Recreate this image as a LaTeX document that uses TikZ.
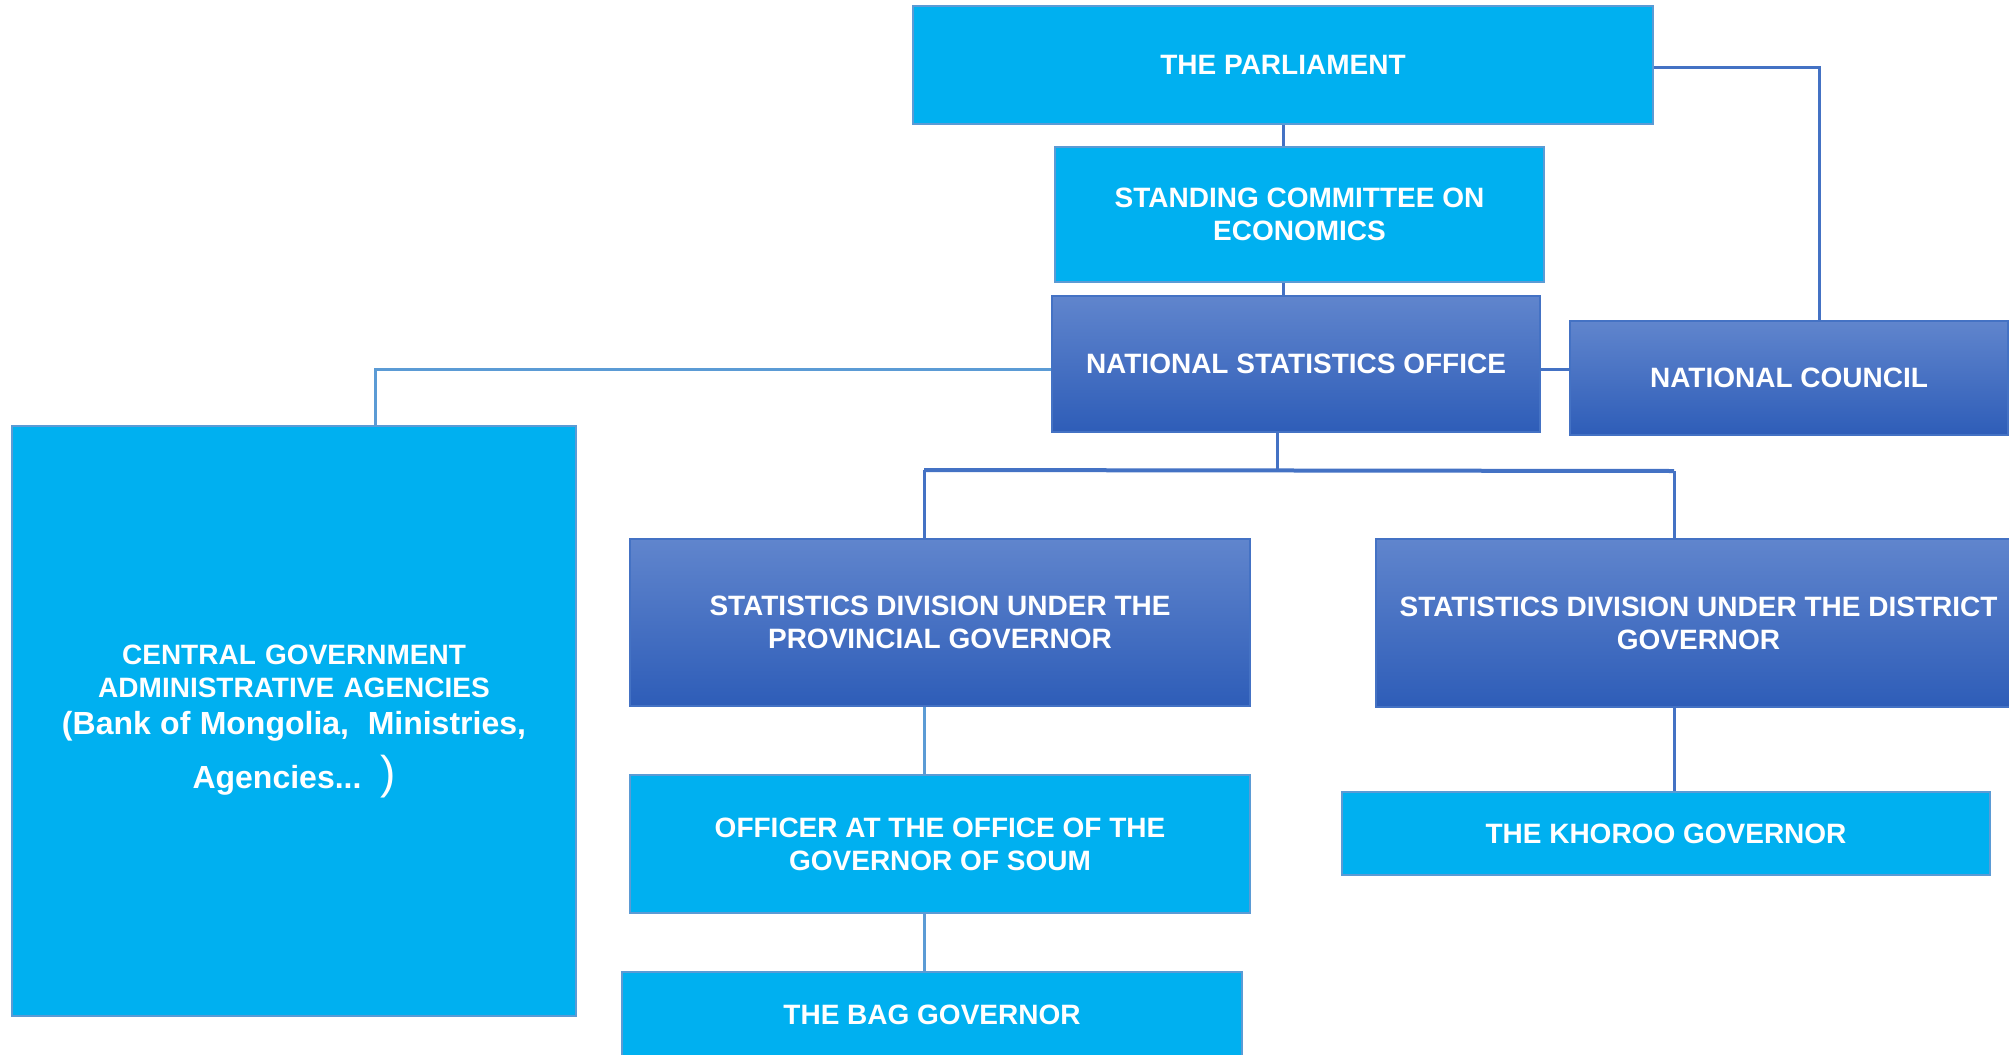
\documentclass[tikz,border=0pt]{standalone}
\usepackage{fontspec}
\setmainfont{Liberation Sans}
\definecolor{lightbox}{HTML}{00B0F0}
\definecolor{lightedge}{HTML}{5B9BD5}
\definecolor{darkedge}{HTML}{4472C4}
\definecolor{gradtop}{HTML}{6085CD}
\definecolor{gradbot}{HTML}{2E5DB8}
\definecolor{linkdark}{HTML}{4472C4}
\definecolor{linklight}{HTML}{5B9BD5}
\begin{document}
\begin{tikzpicture}[x=0.5pt,y=-0.5pt,
  lbox/.style={rectangle, fill=lightbox, draw=lightedge, line width=1pt, inner sep=0pt, text=white, align=center,
    font=\bfseries\fontsize{14}{16.5}\selectfont},
  dbox/.style={rectangle, top color=gradtop, bottom color=gradbot, draw=darkedge, line width=1pt, inner sep=0pt, text=white, align=center,
    font=\bfseries\fontsize{14}{16.5}\selectfont},
  dlink/.style={draw=linkdark, line width=1.5pt},
  llink/.style={draw=linklight, line width=1.5pt}]
\path[use as bounding box] (0,0) rectangle (2009,1055);

\node[lbox, minimum width=370pt, minimum height=59pt] (parl) at (1283,65) {THE PARLIAMENT};
\node[lbox, minimum width=244.5pt, minimum height=67.5pt] (sc) at (1299.5,214.5) {STANDING COMMITTEE ON\\ECONOMICS};
\node[dbox, minimum width=244pt, minimum height=68pt] (nso) at (1296,364) {NATIONAL STATISTICS OFFICE};
\node[dbox, minimum width=219pt, minimum height=57pt] (nc) at (1789,378) {NATIONAL COUNCIL};
\node[lbox, minimum width=282pt, minimum height=295pt, text width=270pt] (cen) at (294,721)
  {\fontsize{14}{16.5}\selectfont CENTRAL GOVERNMENT\par
   ADMINISTRATIVE AGENCIES\par
   \fontsize{16}{18.8}\selectfont (Bank of Mongolia,\ \ Ministries,\par
   \fontsize{16}{26.7}\selectfont Agencies...\ \ {\mdseries\fontsize{23}{26.7}\selectfont )}\par};
\node[dbox, minimum width=310pt, minimum height=83.5pt] (prov) at (940,622.5) {STATISTICS DIVISION UNDER THE\\PROVINCIAL GOVERNOR};
\node[dbox, minimum width=322.5pt, minimum height=84pt] (dist) at (1698.5,623) {STATISTICS DIVISION UNDER THE DISTRICT\\GOVERNOR};
\node[lbox, minimum width=310pt, minimum height=69pt] (off) at (940,844) {OFFICER AT THE OFFICE OF THE\\GOVERNOR OF SOUM};
\node[lbox, minimum width=310pt, minimum height=43pt] (bag) at (932,1015) {THE BAG GOVERNOR};
\node[lbox, minimum width=324pt, minimum height=41.5pt] (khor) at (1666,833.5) {THE KHOROO GOVERNOR};

\coordinate (pn) at (1819,67);
\coordinate (cg) at (375,369);
\coordinate (bus) at (1277,470);
\coordinate (busL) at (924,470);
\coordinate (busR) at (1674,471);

\draw[dlink] (parl.south) -- (parl.south |- sc.north);
\draw[dlink] (sc.south -| parl.south) -- (nso.north -| parl.south);
\draw[dlink] (parl.east |- pn) -- (pn) -- (pn |- nc.north);
\draw[dlink] (nso.east |- cg) -- (nc.west |- cg);
\draw[llink] (nso.west |- cg) -- (cg) -- (cg |- cen.north);
\draw[dlink] (nso.south -| bus) -- (bus);
\draw[dlink, line width=2pt] (busL) -- (busR);
\draw[dlink] (busL) -- (busL |- prov.north);
\draw[dlink] (busR) -- (busR |- dist.north);
\draw[llink] (prov.south -| busL) -- (off.north -| busL);
\draw[llink] (off.south -| busL) -- (bag.north -| busL);
\draw[dlink] (dist.south -| busR) -- (khor.north -| busR);
\end{tikzpicture}
\end{document}
